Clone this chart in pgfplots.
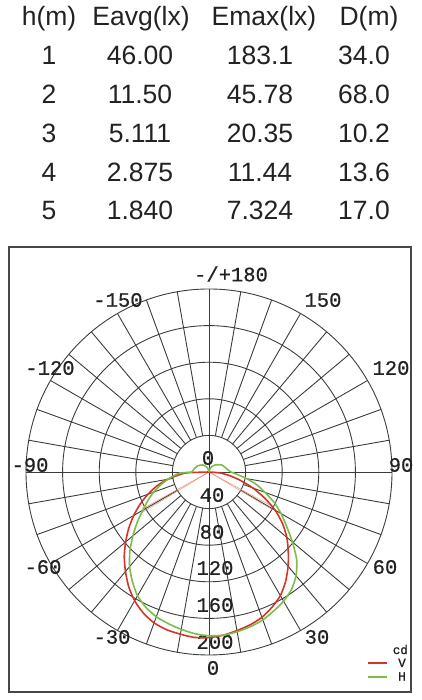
\documentclass[border=0pt]{standalone}
\usepackage{pgfplots}
\pgfplotsset{compat=1.18}
\usepackage{pgfplotstable}
\usepgfplotslibrary{polar}
\usepackage{fontspec}
\setmainfont{Liberation Sans}
\newfontfamily\mono{Liberation Mono}[FakeBold=0.6]
\newfontfamily\legfont{Liberation Mono}[FakeBold=1.2]
\definecolor{gridc}{RGB}{60,60,60}
\definecolor{redc}{RGB}{214,52,40}
\definecolor{greenc}{RGB}{122,190,72}
\definecolor{tanc}{RGB}{210,150,100}
\definecolor{txt}{RGB}{34,34,34}

% luminous intensity (cd) versus angle theta (0 = straight down, + to the right)
\pgfplotstableread{
t r
-90 0
-88 24
-85 32
-80 46
-75 59
-70 71
-65 83
-60 95
-55 107
-50 119
-45 131
-40 142
-35 153
-30 162.5
-25 170
-20 175.5
-15 178.5
-10 180
-5 181.5
0 181
5 179
10 176
15 173
20 169
25 163
30 156
35 146
40 134.5
45 122.5
50 111
55 98
60 83.5
65 67
70 51
75 35.5
80 23
85 12
90 0
}\redV

\pgfplotstableread{
t r
-180 0
-160 5
-140 10
-119 14
-100 17
-90 19
-88 32
-85 37
-80 45.5
-75 54.7
-70 64.3
-65 73.7
-60 83.4
-55 95.7
-50 108.6
-45 122.3
-40 135
-35 146
-30 156.2
-25 163.2
-20 168.3
-15 171.6
-10 174.6
-5 177.4
0 179
5 179
10 177.3
15 175
20 172
25 167.5
30 163
35 157
40 148
45 135.5
50 119
55 103.5
60 91
65 78.5
70 65
75 54
80 42
85 31
90 24
96 21
118 16
140 10
160 5
180 0
}\greenH

\begin{document}
\begin{tikzpicture}
\begin{scope}[x=1pt,y=-1pt,shift={(0,700pt)}]
\path[use as bounding box] (0,0) rectangle (422,700);
% ---- table ----
\begin{scope}[every node/.style={inner sep=0pt, anchor=base, text=txt, font=\fontsize{26.5}{30}\selectfont}]
\node at (49,26) {h(m)};
\node at (141,26) {Eavg(lx)};
\node at (264,26) {Emax(lx)};
\node at (369,26) {D(m)};
\node at (49,65) {1};   \node at (140,65) {46.00}; \node at (260,65) {183.1}; \node at (364,65) {34.0};
\node at (49,104) {2};  \node at (140,104) {11.50}; \node at (260,104) {45.78}; \node at (364,104) {68.0};
\node at (49,143) {3};  \node at (140,143) {5.111}; \node at (260,143) {20.35}; \node at (364,143) {10.2};
\node at (49,182) {4};  \node at (140,182) {2.875}; \node at (260,182) {11.44}; \node at (364,182) {13.6};
\node at (49,220) {5};  \node at (140,220) {1.840}; \node at (260,220) {7.324}; \node at (364,220) {17.0};
\end{scope}
% ---- frame ----
\draw[line width=1.4pt, draw=black!72] (9,247) rectangle (411,692);
% ---- polar grid ----
\begin{scope}[shift={(209,472)}, gridc, line width=0.9pt]
\foreach \k in {1,...,5} \draw (0,0) circle[radius=\k*36.6pt];
\foreach \a in {10,20,...,350} \draw (\a:36.6pt) -- (\a:183pt);
\draw (180:183pt) -- (0:183pt);
\draw (90:183pt) -- (270:183pt);
\end{scope}
% ---- labels ----
\begin{scope}[every node/.style={inner sep=0pt, anchor=center, text=txt, font=\mono\fontsize{20.5}{22}\selectfont}]
\node at (231,274) {-/+180};
\node at (323,300) {150};  \node at (118,300) {-150};
\node at (391,368) {120};  \node at (50,368) {-120};
\node at (401,465) {90};   \node at (30,465) {-90};
\node at (385,567) {60};   \node at (43,567) {-60};
\node at (317,637) {30};   \node at (112,637) {-30};
\node at (213,668) {0};
\node at (208,458) {0};
\node at (212,495) {40};
\node at (212,532) {80};
\node at (215,568) {120};
\node at (215,605) {160};
\node at (215,642) {200};
\end{scope}
% ---- legend ----
\draw[redc, line width=1.6pt] (368,663) -- (387,663);
\draw[greenc, line width=1.6pt] (368,677) -- (387,677);
\begin{scope}[every node/.style={inner sep=0pt, text=txt, font=\legfont\fontsize{12.5}{13}\selectfont}]
\node[anchor=base east] at (408,654) {cd};
\node[anchor=base] at (402,667) {V};
\node[anchor=base] at (402,680.5) {H};
\end{scope}
\end{scope}
\begin{polaraxis}[at={(209pt,228pt)}, anchor=origin, scale only axis, width=366pt, height=366pt,
  xmin=0, xmax=360, ymin=0, ymax=200, hide axis, clip=false]
\addplot[tanc, line width=0.5pt] coordinates {(0,0) (-148.8,84)};
\addplot[redc!55, line width=0.5pt] coordinates {(0,0) (-151,84)};
\addplot[tanc, line width=0.5pt] coordinates {(0,0) (-30.7,81)};
\addplot[redc!55, line width=0.5pt] coordinates {(0,0) (-28.5,80)};
\addplot[redc, line width=1.6pt, no marks, smooth, tension=0.4] table[x expr=\thisrow{t}-90, y=r] {\redV};
\addplot[greenc, line width=1.6pt, no marks, smooth, tension=0.4] table[x expr=\thisrow{t}-90, y=r] {\greenH};
\end{polaraxis}
\end{tikzpicture}
\end{document}
